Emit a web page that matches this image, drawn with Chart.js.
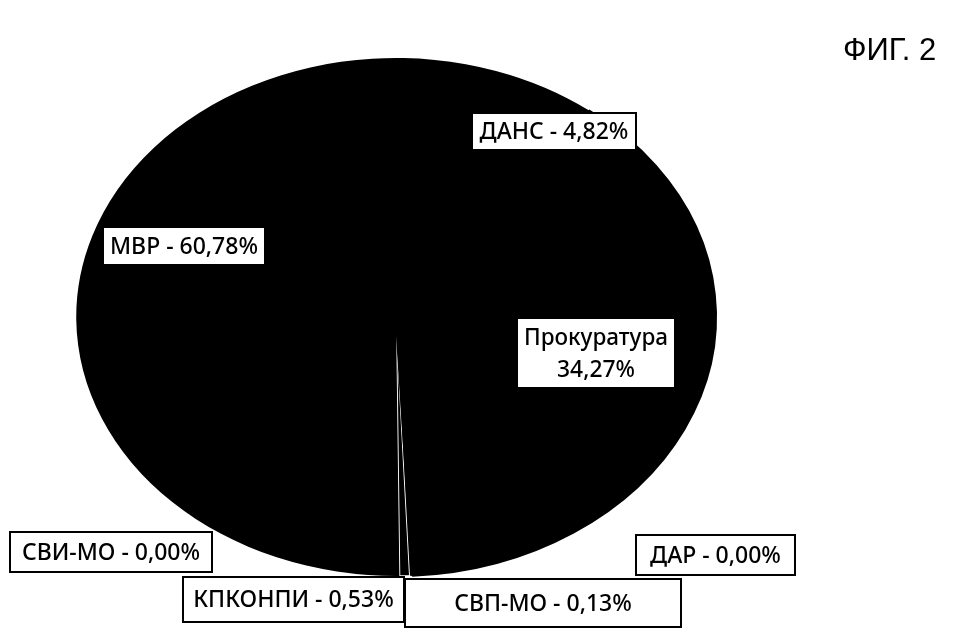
<!DOCTYPE html>
<html>
<head>
<meta charset="utf-8">
<script src="https://cdn.jsdelivr.net/npm/chart.js@4.4.1/dist/chart.umd.min.js"></script>
<style>
html,body{margin:0;padding:0;background:#fff;}
canvas{display:block;}
</style>
</head>
<body>
<canvas id="c" width="955" height="644"></canvas>
<script>
// ---- data ----
const categories = ['КПКОНПИ', 'СВИ-МО', 'МВР', 'ДАНС', 'Прокуратура', 'ДАР', 'СВП-МО'];
const shares = [0.53, 0.00, 60.78, 4.82, 34.27, 0.00, 0.13];
const shareText = ['0,53%', '0,00%', '60,78%', '4,82%', '34,27%', '0,00%', '0,13%'];
const figureTitle = 'ФИГ. 2';

// ---- label box layout (annotation placement, not data) ----
const labelBoxes = {
  'КПКОНПИ':     {x:183, y:577, w:221, h:45, lines:['КПКОНПИ - 0,53%'], tw:[207]},
  'СВИ-МО':      {x:10,  y:532, w:202, h:40, lines:['СВИ-МО - 0,00%'], tw:[186]},
  'МВР':         {x:103, y:227, w:162, h:38, lines:['МВР - 60,78%'], tw:[148]},
  'ДАНС':        {x:472, y:113, w:164, h:37, lines:['ДАНС - 4,82%'], tw:[150]},
  'Прокуратура': {x:517, y:318, w:158, h:70, lines:['Прокуратура','34,27%'], tw:[144,78]},
  'ДАР':         {x:636, y:535, w:159, h:40, lines:['ДАР - 0,00%'], tw:[140]},
  'СВП-МО':      {x:405, y:579, w:276, h:48, lines:['СВП-МО - 0,13%'], tw:[196]}
};

const ellipseScale = 321/260;

const ellipsePlugin = {
  id: 'ellipse',
  beforeDraw(chart){
    const ctx = chart.ctx;
    ctx.save();
    ctx.fillStyle = '#fff';
    ctx.fillRect(0,0,chart.width,chart.height);
    ctx.restore();
  },
  beforeDatasetsDraw(chart){
    const ctx = chart.ctx;
    const arc = chart.getDatasetMeta(0).data[0];
    ctx.save();
    ctx.translate(arc.x, arc.y);
    ctx.scale(ellipseScale, 1);
    ctx.translate(-arc.x, -arc.y);
  },
  afterDatasetsDraw(chart){
    chart.ctx.restore();
  },
  afterDraw(chart){
    const ctx = chart.ctx;
    ctx.save();
    categories.forEach((c) => {
      const b = labelBoxes[c];
      if (!b) return;
      ctx.fillStyle = '#fff';
      ctx.fillRect(b.x, b.y, b.w, b.h);
      ctx.lineWidth = 2;
      ctx.strokeStyle = '#000';
      ctx.strokeRect(b.x, b.y, b.w, b.h);
      ctx.fillStyle = '#000';
      ctx.font = '500 23px "Noto Sans", sans-serif';
      ctx.textAlign = 'center';
      ctx.textBaseline = 'middle';
      const cx = b.x + b.w/2;
      const n = b.lines.length;
      const lh = 32;
      b.lines.forEach((ln, i) => {
        const cy = b.y + b.h/2 + (i - (n-1)/2) * lh + 1;
        ctx.fillText(ln, cx, cy, b.tw[i]);
      });
    });
    ctx.font = '31px "Liberation Sans", Arial, sans-serif';
    ctx.textAlign = 'left';
    ctx.textBaseline = 'alphabetic';
    ctx.fillText(figureTitle, 843, 60);
    ctx.restore();
  }
};

new Chart(document.getElementById('c'), {
  type: 'pie',
  data: {
    labels: categories,
    datasets: [{
      data: shares,
      backgroundColor: '#000',
      borderColor: ['#fff','#000','#000','#000','#000','#000','#000'],
      borderWidth: [1.5,0,0,2,2,0,0]
    }]
  },
  options: {
    responsive: false,
    animation: false,
    rotation: 177.5,
    layout: {padding: {left: 136, right: 299, top: 57, bottom: 67}},
    plugins: {legend: {display: false}, tooltip: {enabled: false}}
  },
  plugins: [ellipsePlugin]
});
</script>
</body>
</html>
